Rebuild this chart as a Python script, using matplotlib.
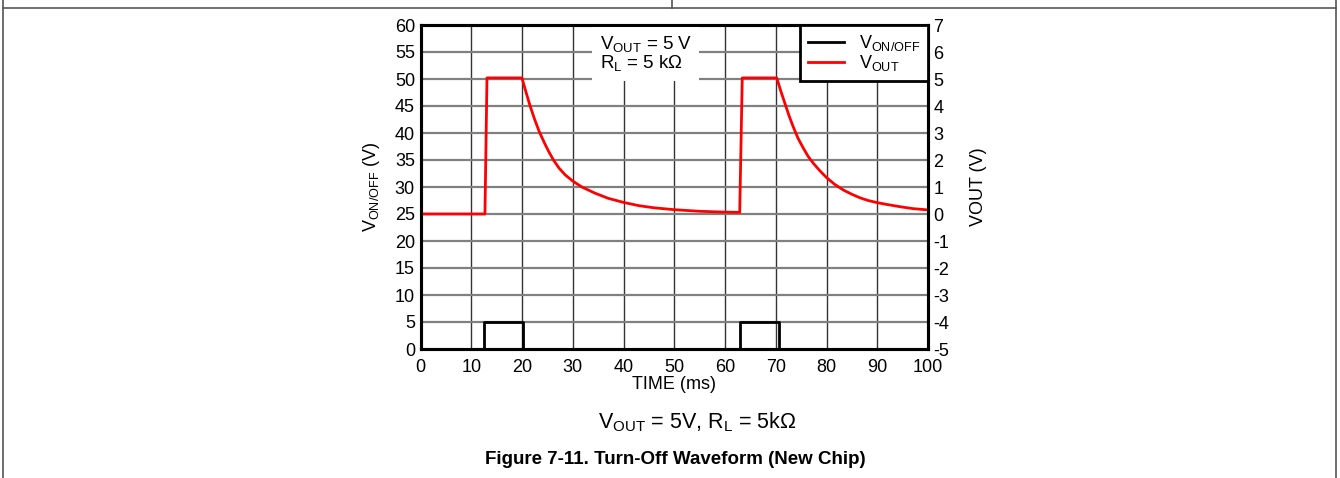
import matplotlib
matplotlib.use('Agg')
import matplotlib.pyplot as plt
from matplotlib.lines import Line2D

plt.rcParams['font.family'] = ['Liberation Sans', 'DejaVu Sans']
plt.rcParams['mathtext.fontset'] = 'custom'
plt.rcParams['mathtext.rm'] = 'Liberation Sans'
plt.rcParams['mathtext.it'] = 'Liberation Sans'
plt.rcParams['axes.unicode_minus'] = False

# V_ON/OFF control signal (left axis, V)
t_onoff = [0, 12.6, 12.6, 20.1, 20.1, 63.0, 63.0, 70.6, 70.6, 100]
v_onoff = [0, 0, 5, 5, 0, 0, 5, 5, 0, 0]

# V_OUT (right axis, V)
t_out = [0, 12.7, 13.1, 20.0, 20.5, 21.0, 21.6, 22.5, 23.4, 24.5, 25.3, 26.2, 27.3,
         28.5, 30, 31.8, 34.4, 37, 40, 43, 46, 50, 55, 60, 62.9,
         63.4, 70.2, 71.0, 71.8, 72.6, 73.4, 74.4, 75.4, 76.4, 77.4, 78.7, 80,
         81.6, 83.3, 85, 86.6, 88.2, 90, 92, 94.5, 97, 100]
v_out = [0, 0, 5.04, 5.04, 4.7, 4.38, 4.0, 3.5, 3.05, 2.6, 2.3, 2.0, 1.7,
         1.45, 1.22, 1.0, 0.77, 0.58, 0.43, 0.31, 0.23, 0.16, 0.1, 0.07, 0.06,
         5.04, 5.04, 4.55, 4.1, 3.65, 3.25, 2.8, 2.45, 2.13, 1.88, 1.6, 1.35,
         1.1, 0.89, 0.73, 0.6, 0.5, 0.42, 0.35, 0.27, 0.2, 0.15]

x_ticks = list(range(0, 101, 10))
left_ticks = list(range(0, 61, 5))
right_ticks = list(range(-5, 8, 1))

fig = plt.figure(figsize=(13.4, 4.78), dpi=100)

# table-cell frame around the figure
for xs, ys in [([3 / 1340, 3 / 1340], [0, 1]),
               ([1336 / 1340, 1336 / 1340], [0, 1]),
               ([3 / 1340, 1336 / 1340], [1 - 8 / 478, 1 - 8 / 478]),
               ([672 / 1340, 672 / 1340], [1 - 8 / 478, 1])]:
    fig.add_artist(Line2D(xs, ys, transform=fig.transFigure, color='#555555', lw=1.2))

ax = fig.add_axes([420.5 / 1340, 1 - 349 / 478, 507.5 / 1340, 324 / 478])
ax2 = ax.twinx()

ax.plot(t_onoff, v_onoff, color='black', lw=2.0, label='V$_{\\mathrm{ON/OFF}}$')
ax2.plot(t_out, v_out, color='#ff0000', lw=2.0, label='V$_{\\mathrm{OUT}}$')

ax.set_xlim(0, 100)
ax.set_ylim(0, 60)
ax2.set_ylim(-5, 7)
ax.set_xticks(x_ticks)
ax.set_yticks(left_ticks)
ax2.set_yticks(right_ticks)

for x in x_ticks[1:-1]:
    ax.axvline(x, color='#333333', lw=1.0, zorder=0)
for y in left_ticks[1:-1]:
    ax.axhline(y, color='#808080', lw=1.6, zorder=0)

for a in (ax, ax2):
    a.tick_params(length=0, labelsize=13, pad=4)
    for s in a.spines.values():
        s.set_linewidth(2.2)
        s.set_color('black')
ax.tick_params(axis='x', pad=7)

ax.set_xlabel('TIME (ms)', fontsize=13, labelpad=0)
ax.set_ylabel('V$_{\\mathrm{ON/OFF}}$ (V)', fontsize=13, labelpad=9)
ax2.set_ylabel('VOUT (V)', fontsize=13, labelpad=15)

ax2.text(35.3, 58.3 / 5 - 5, 'V$_{\\mathrm{OUT}}$ = 5 V\nR$_{\\mathrm{L}}$ = 5 k\u03a9',
         fontsize=13.5, va='top', ha='left', linespacing=0.95,
         bbox=dict(boxstyle='square,pad=0.4', fc='white', ec='none'))

handles = ax.get_lines()[:1] + ax2.get_lines()[:1]
leg = ax2.legend(handles, [h.get_label() for h in handles], loc='upper right',
                 fontsize=13, frameon=True, fancybox=False, borderaxespad=0,
                 handlelength=2.0, handletextpad=0.8, labelspacing=0.0,
                 borderpad=0.45)
leg.get_frame().set_edgecolor('black')
leg.get_frame().set_linewidth(2.0)
leg.get_frame().set_alpha(1)

fig.text(697 / 1340, 1 - 422 / 478, 'V$_{\\mathrm{OUT}}$ = 5V, R$_{\\mathrm{L}}$ = 5k\u03a9',
         ha='center', va='center', fontsize=15.5)
fig.text(675 / 1340, 1 - 460 / 478, 'Figure 7-11. Turn-Off Waveform (New Chip)',
         ha='center', va='center', fontsize=13.5, fontweight='bold')

fig.savefig('out.png', dpi=100)
